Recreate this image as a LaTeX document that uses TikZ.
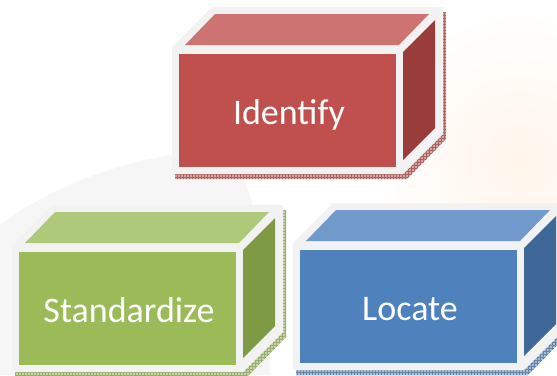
\documentclass[tikz,border=0pt]{standalone}
\usepackage{fontspec}
\setmainfont{Carlito}
\usetikzlibrary{patterns}
\definecolor{rimgrey}{HTML}{F2F2F2}
\definecolor{redfront}{HTML}{C0504D}
\definecolor{redtop}{HTML}{CD7371}
\definecolor{redside}{HTML}{9A3C3A}
\definecolor{greenfront}{HTML}{9BBB59}
\definecolor{greentop}{HTML}{AFC97B}
\definecolor{greenside}{HTML}{7E9A45}
\definecolor{bluefront}{HTML}{4F81BD}
\definecolor{bluetop}{HTML}{7299CB}
\definecolor{blueside}{HTML}{3F6797}
\tikzset{
  blocktext/.style={white, font=\fontsize{36}{36}\selectfont, anchor=base},
}

\begin{document}
\begin{tikzpicture}[x=1pt, y=-1pt]
  \useasboundingbox (0,0) rectangle (557,375);
  \fill[white] (0,0) rectangle (557,375);

  % faint background wash
  \shade[inner color=orange!8, outer color=white] (520,160) circle (150);
  \fill[gray, opacity=0.07] (0,375) -- (0,225) .. controls (60,180) and (150,150) .. (230,150)
    .. controls (250,190) and (270,230) .. (270,375) -- cycle;

  % Identify block
  \begin{scope}[shift={(172,47)}]
    \fill[redside!45] (3,5) -- (43,-35) -- (274,-35) -- (274,92) -- (235,132) -- (3,132) -- cycle;
    \fill[pattern=grid, pattern color=redside!80] (3,5) -- (43,-35) -- (274,-35) -- (274,92) -- (235,132) -- (3,132) -- cycle;
    \fill[rimgrey] (0,0) -- (40,-40) -- (271,-40) -- (271,87) -- (231,127) -- (0,127) -- cycle;
    \fill[redtop] (13,-2) -- (43,-33) -- (257,-33) -- (227,-2) -- cycle;
    \fill[redfront] (7,7) rectangle (224,120);
    \fill[redside] (231,5) -- (263,-27) -- (263,81) -- (231,113) -- cycle;
    \node[blocktext] (identify) at (117,77) {Identify};
  \end{scope}

  % Standardize block
  \begin{scope}[shift={(12,245)}]
    \fill[greenside!45] (3,5) -- (43,-35) -- (274,-35) -- (274,92) -- (235,132) -- (3,132) -- cycle;
    \fill[pattern=grid, pattern color=greenside!80] (3,5) -- (43,-35) -- (274,-35) -- (274,92) -- (235,132) -- (3,132) -- cycle;
    \fill[rimgrey] (0,0) -- (40,-40) -- (271,-40) -- (271,87) -- (231,127) -- (0,127) -- cycle;
    \fill[greentop] (13,-2) -- (43,-33) -- (257,-33) -- (227,-2) -- cycle;
    \fill[greenfront] (7,7) rectangle (224,120);
    \fill[greenside] (231,5) -- (263,-27) -- (263,81) -- (231,113) -- cycle;
    \node[blocktext] (standardize) at (117,77) {Standardize};
  \end{scope}

  % Locate block
  \begin{scope}[shift={(293,243)}]
    \fill[blueside!45] (3,5) -- (43,-35) -- (274,-35) -- (274,92) -- (235,132) -- (3,132) -- cycle;
    \fill[pattern=grid, pattern color=blueside!80] (3,5) -- (43,-35) -- (274,-35) -- (274,92) -- (235,132) -- (3,132) -- cycle;
    \fill[rimgrey] (0,0) -- (40,-40) -- (271,-40) -- (271,87) -- (231,127) -- (0,127) -- cycle;
    \fill[bluetop] (13,-2) -- (43,-33) -- (257,-33) -- (227,-2) -- cycle;
    \fill[bluefront] (7,7) rectangle (224,120);
    \fill[blueside] (231,5) -- (263,-27) -- (263,81) -- (231,113) -- cycle;
    \node[blocktext] (locate) at (117,77) {Locate};
  \end{scope}
\end{tikzpicture}
\end{document}
